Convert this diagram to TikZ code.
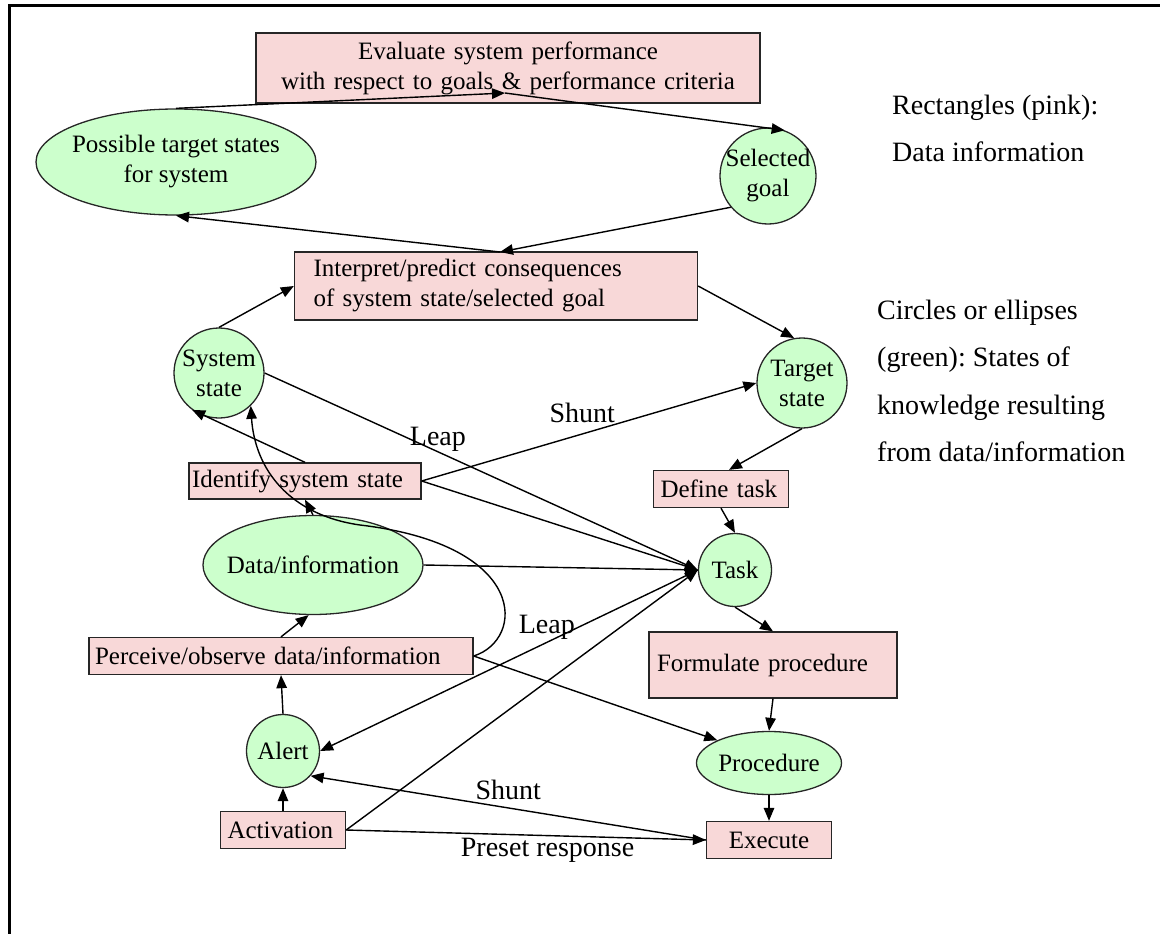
\documentclass[tikz,border=0pt]{standalone}
\usepackage{fontspec}
\setmainfont{Liberation Serif}
\usetikzlibrary{arrows.meta,shapes.geometric}
\definecolor{Rect}{HTML}{F8D8D8}
\definecolor{State}{HTML}{CCFFCC}
\frenchspacing

\begin{document}
\begin{tikzpicture}[x=1pt, y=-1pt,
    every node/.style={font=\fontsize{25}{30}\selectfont},
    rect/.style={shape=rectangle, draw=black!85, fill=Rect, line width=1.3pt, inner ysep=0pt},
    state/.style={draw=black!85, fill=State, line width=1.3pt, inner sep=-10pt, align=center},
    lbl/.style={font=\fontsize{28}{33}\selectfont, inner sep=2pt},
    legend/.style={anchor=west, align=left, inner sep=0pt},
    arr/.style={line width=1.4pt, -{Triangle[length=13pt, width=10.5pt]}}]
    \useasboundingbox (0,0) rectangle (1160,934);
    \draw[line width=3pt] (9,934) -- (9,6) -- (1160,6);

    \node at (508,68) (Eval) [rect, minimum width=504pt, minimum height=70pt, text width=486pt, inner xsep=9pt, align=center] {Evaluate system performance\\with respect to goals \& performance criteria};
    \node at (176,162) (Poss) [state, shape=ellipse, minimum width=280pt, minimum height=106pt] {Possible target states\\for system};
    \node at (768,176) (Goal) [state, shape=circle, minimum size=96pt] {Selected\\goal};
    \node at (496,286) (Interp) [rect, minimum height=68pt, text width=365pt, inner xsep=19pt, align=left] {Interpret/predict consequences\\of system state/selected goal};
    \node at (219,373) (SysState) [state, shape=circle, minimum size=90pt] {System\\state};
    \node at (802,383) (TgtState) [state, shape=circle, minimum size=90pt] {Target\\state};
    \node at (305,481) (IdSys) [rect, minimum height=36pt, text width=226pt, inner xsep=3pt, align=left] {Identify system state};
    \node at (313,565) (Data) [state, shape=ellipse, minimum width=220pt, minimum height=99pt] {Data/information};
    \node at (281,656) (Perc) [rect, minimum height=37pt, text width=372pt, inner xsep=6pt, align=left] {Perceive/observe data/information};
    \node at (283,751) (Alert) [state, shape=circle, minimum size=73pt] {Alert};
    \node at (283,830) (Act) [rect, minimum height=37pt, text width=111pt, inner xsep=7pt, align=left] {Activation};
    \node at (721,489) (DefTask) [rect, minimum height=37pt, text width=121pt, inner xsep=7pt, align=left] {Define task};
    \node at (735,570) (Task) [state, shape=circle, minimum size=73pt] {Task};
    \node at (773,665) (Form) [rect, minimum height=66pt, text width=232pt, inner xsep=8pt, align=left] {Formulate procedure};
    \node at (769,763) (Proc) [state, shape=ellipse, minimum width=145pt, minimum height=63pt] {Procedure};
    \node at (769,840) (Exec) [rect, minimum height=37pt, minimum width=125pt] {Execute};

    \node at (892,128) (LegRect) [legend, font=\fontsize{28}{47}\selectfont] {Rectangles (pink):\\Data information};
    \node at (877,381) (LegState) [legend, font=\fontsize{28}{47.5}\selectfont] {Circles or ellipses\\(green): States of\\knowledge resulting\\from data/information};

    \coordinate (EvalPt) at (505,93);
    \coordinate (InterpPt) at (500,252);

    \draw[arr] (Poss.north) -- (EvalPt);
    \draw[arr] (EvalPt) -- (Goal.70);
    \draw[arr] (Goal.220) -- (InterpPt);
    \draw[arr] (InterpPt) -- (Poss.south);
    \draw[arr] (SysState.north) -- (Interp.west);
    \draw[arr] (Interp.east) -- (TgtState.100);
    \draw[arr] (SysState.east) -- node[lbl, pos=0.4, above=-2pt] {Leap} (Task.west);
    \draw[arr] (IdSys.north) -- (SysState.234);
    \draw[arr] (IdSys.east) -- node[lbl, pos=0.48, above=8pt] {Shunt} (TgtState.west);
    \draw[arr] (IdSys.east) -- (Task.west);
    \draw[arr] (Data.north) -- (IdSys.south);
    \draw[arr] (Perc.east) .. controls (525,640) and (530,545) .. (360,525) .. controls (290,515) and (255,470) .. (SysState.314);
    \draw[arr] (Data.east) -- (Task.west);
    \draw[arr] (Perc.north) -- (Data.265);
    \draw[arr] (Perc.east) -- (Proc.north west);
    \draw[arr] (Alert.north) -- (Perc.south);
    \draw[arr] (Act.north) -- (Alert.south);
    \draw[arr] (Task.west) -- node[lbl, pos=0.4, above] {Leap} (Alert.east);
    \draw[arr] (Act.east) -- (Task.west);
    \draw[arr] (Exec.west) -- node[lbl, pos=0.5, above=5pt] {Shunt} (Alert.318);
    \draw[arr] (Act.east) -- node[lbl, pos=0.56, below] {Preset response} (Exec.west);
    \draw[arr] (TgtState.south) -- ([xshift=8pt]DefTask.north);
    \draw[arr] (DefTask.south) -- (Task.north);
    \draw[arr] (Task.south) -- (Form.north);
    \draw[arr] (Form.south) -- (Proc.north);
    \draw[arr] (Proc.south) -- (Exec.north);
\end{tikzpicture}
\end{document}
